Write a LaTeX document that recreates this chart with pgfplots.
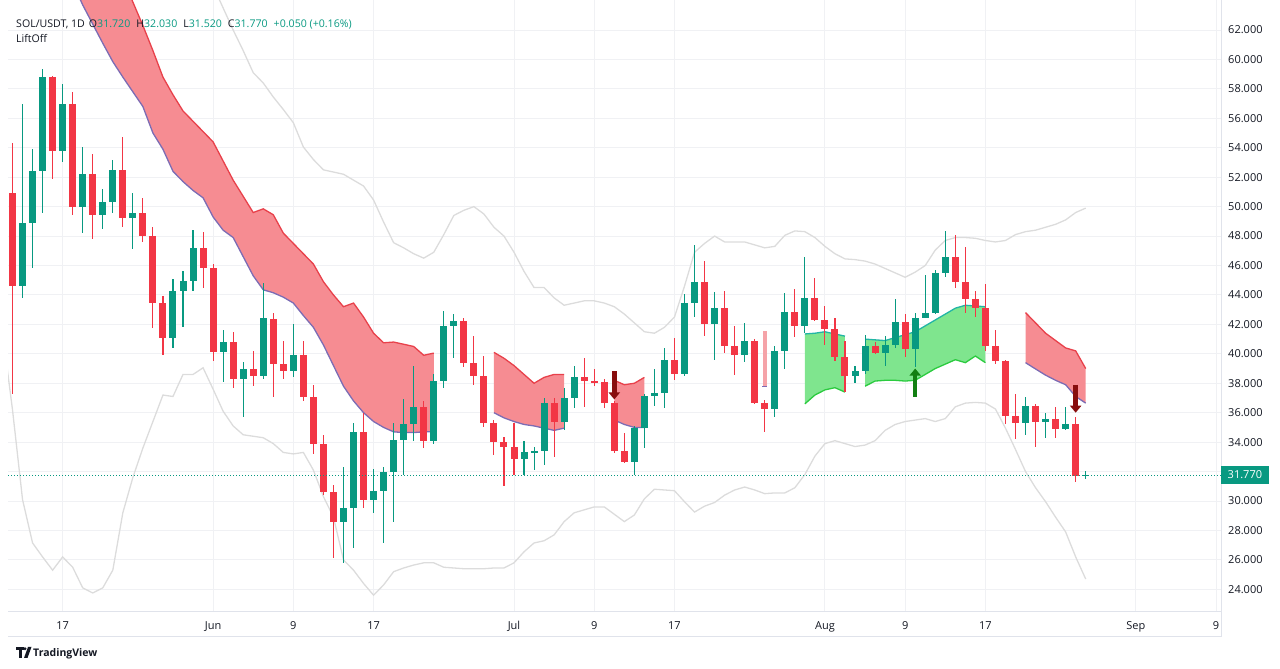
\documentclass[border=0pt]{standalone}
\usepackage{fontspec}
\setmainfont{Open Sans}
\usepackage{pgfplots}
\usepackage{pgfplotstable}
\pgfplotsset{compat=1.18}
\usepgfplotslibrary{fillbetween}
\usetikzlibrary{arrows.meta,calc}
\definecolor{tvgreen}{HTML}{089981}
\definecolor{tvred}{HTML}{F23645}
\definecolor{tvdark}{HTML}{131722}
\definecolor{bandred}{HTML}{F68C92}
\definecolor{bandredline}{HTML}{E8414B}
\definecolor{bandpurple}{HTML}{7C6CB4}
\definecolor{bandgreen}{HTML}{7FE58E}
\definecolor{bandteal}{HTML}{22B5A5}
\definecolor{bandlime}{HTML}{2BCB3F}
\definecolor{bbgrey}{HTML}{DCDCDC}
\definecolor{gridc}{HTML}{F0F1F4}
\definecolor{axisc}{HTML}{E0E3EB}
\definecolor{arrred}{HTML}{880E0E}
\definecolor{arrgreen}{HTML}{127F12}
\definecolor{pinkbar}{HTML}{F5A3A8}

\pgfplotstableread{
k O H L C u
0 50.93 54.3 37.3 44.6 0
1 44.6 57.0 43.8 48.9 1
2 48.9 53.9 45.8 52.4 1
3 52.4 59.35 49.6 58.8 1
4 58.8 58.9 51.9 53.8 0
5 53.8 58.3 53.0 57.0 1
6 57.0 57.8 49.4 50.0 0
7 50.0 54.05 48.2 52.2 1
8 52.2 53.6 47.8 49.4 0
9 49.4 51.2 48.5 50.3 1
10 50.3 53.2 49.6 52.5 1
11 52.5 54.7 48.6 49.2 0
12 49.2 50.9 47.1 49.6 1
13 49.6 50.6 47.6 48.0 0
14 48.0 48.6 41.75 43.45 0
15 43.45 43.9 39.9 41.1 0
16 41.1 45.1 40.4 44.3 1
17 44.3 45.6 41.8 44.95 1
18 44.95 48.4 44.3 47.2 1
19 47.2 48.3 44.5 45.8 0
20 45.8 46.1 39.5 40.1 0
21 40.1 41.6 38.1 40.8 1
22 40.8 41.5 37.7 38.3 0
23 38.3 39.45 35.7 39.0 1
24 39.0 40.2 37.8 38.5 0
25 38.5 44.8 38.3 42.4 1
26 42.4 42.8 37.1 39.3 0
27 39.3 40.9 38.3 38.8 0
28 38.8 42.0 38.4 39.9 1
29 39.9 40.9 36.8 37.1 0
30 37.1 37.9 33.2 33.9 0
31 33.9 34.5 30.4 30.6 0
32 30.6 31.1 26.1 28.6 0
33 28.6 32.3 25.8 29.5 1
34 29.5 35.3 26.8 34.7 1
35 34.7 36.0 29.5 30.1 0
36 30.1 32.2 29.2 30.7 1
37 30.7 32.3 27.15 32.0 1
38 32.0 35.3 28.6 34.15 1
39 34.15 36.9 31.8 35.2 1
40 35.2 39.2 34.1 36.4 1
41 36.4 36.8 33.6 34.1 0
42 34.1 38.6 33.9 38.15 1
43 38.15 42.9 37.7 41.9 1
44 41.9 42.7 39.7 42.2 1
45 42.2 42.4 39.1 39.4 0
46 39.4 41.2 37.9 38.5 0
47 38.5 39.85 35.0 35.3 0
48 35.3 35.5 33.1 34.0 0
49 34.0 34.35 31.0 33.7 0
50 33.7 35.3 31.8 32.85 0
51 32.85 34.1 31.8 33.3 1
52 33.3 33.7 32.1 33.38 1
53 33.38 37.0 32.45 36.65 1
54 36.65 37.0 33.0 35.4 0
55 35.4 37.7 34.8 37.0 1
56 37.0 39.2 36.35 38.4 1
57 38.4 39.7 36.4 38.15 0
58 38.15 38.95 37.8 38.08 0
59 38.08 38.3 36.3 36.65 0
60 36.65 36.8 33.25 33.4 0
61 33.4 34.6 32.6 32.65 0
62 32.65 35.1 31.8 34.95 1
63 34.95 37.3 33.6 37.15 1
64 37.15 39.0 36.45 37.35 1
65 37.35 40.4 36.3 39.6 1
66 39.6 41.1 38.2 38.6 0
67 38.6 44.05 38.5 43.45 1
68 43.45 47.4 42.5 44.9 1
69 44.9 46.3 41.2 42.0 0
70 42.0 44.2 39.6 43.1 1
71 43.1 44.3 40.05 40.5 0
72 40.5 41.9 38.55 39.9 0
73 39.9 42.1 39.45 40.9 1
74 40.9 41.0 36.6 36.65 0
75 36.65 36.85 34.7 36.25 0
76 36.25 40.5 35.7 40.2 1
77 40.2 44.1 39.0 42.85 1
78 42.85 44.4 41.15 41.9 0
79 41.9 46.6 41.4 43.8 1
80 43.8 45.15 42.2 42.3 0
81 42.3 43.25 40.6 41.7 0
82 41.7 42.45 39.5 39.8 0
83 39.8 40.9 37.4 38.5 0
84 38.5 39.2 38.0 38.85 1
85 38.85 41.3 38.6 40.5 1
86 40.5 40.8 40.0 40.05 0
87 40.05 41.2 39.2 40.6 1
88 40.6 43.7 40.4 42.15 1
89 42.15 42.7 39.8 40.3 0
90 40.3 42.8 39.1 42.4 1
91 42.4 45.35 42.4 42.8 1
92 42.8 45.7 42.7 45.5 1
93 45.5 48.35 45.2 46.6 1
94 46.6 48.1 44.5 44.9 0
95 44.9 47.25 42.8 43.7 0
96 43.7 44.3 42.5 43.1 0
97 43.1 44.75 40.2 40.5 0
98 40.5 41.6 39.3 39.5 0
99 39.5 39.6 35.2 35.8 0
100 35.8 37.3 34.2 35.3 0
101 35.3 37.05 34.5 36.45 1
102 36.45 36.6 33.7 35.4 0
103 35.4 36.0 34.3 35.6 1
104 35.6 36.4 34.3 34.9 0
105 34.9 36.4 34.85 35.2 1
106 35.2 35.7 31.3 31.72 0
107 31.72 32.03 31.52 31.77 1
}\candles

\pgfplotstableread{
k v
20 65.0
21 63.5
22 62.0
23 60.6
24 59.1
25 58.4
26 57.45
27 56.6
28 55.7
29 54.05
30 53.2
31 52.5
32 52.35
33 52.2
34 51.8
35 51.4
36 50.45
37 48.95
38 47.55
39 47.2
40 46.8
41 46.5
42 46.9
43 48.1
44 49.4
45 49.75
46 50.0
47 49.5
48 48.6
49 48.0
50 46.9
51 45.6
52 44.5
53 44.5
54 43.8
55 43.3
56 43.45
57 43.6
58 43.6
59 43.45
60 43.2
61 42.7
62 42.1
63 41.5
64 41.4
65 41.8
66 42.5
67 44.6
68 46.9
69 47.5
70 48.0
71 47.6
72 47.6
73 47.6
74 47.4
75 47.2
76 47.3
77 48.05
78 48.35
79 48.3
80 47.9
81 47.3
82 46.8
83 46.45
84 46.4
85 46.3
86 46.1
87 45.8
88 45.5
89 45.2
90 45.55
91 46.0
92 47.05
93 47.7
94 47.9
95 47.9
96 47.85
97 47.7
98 47.6
99 47.7
100 48.1
101 48.3
102 48.4
103 48.6
104 48.8
105 49.1
106 49.6
107 49.9
}\greyup

\pgfplotstableread{
k v
-1 41.5
0 36.2
1 30.1
2 27.15
3 26.2
4 25.3
5 26.2
6 25.5
7 24.1
8 23.75
9 24.1
10 25.3
11 29.2
12 31.6
13 33.6
14 35.4
15 37.2
16 37.1
17 38.6
18 38.6
19 39.05
20 37.6
21 36.1
22 35.1
23 34.5
24 34.4
25 34.3
26 33.9
27 33.3
28 33.2
29 33.3
30 32.1
31 30.3
32 28.9
33 26.0
34 25.3
35 24.4
36 23.6
37 24.3
38 25.2
39 25.45
40 25.65
41 25.8
42 25.8
43 25.5
44 25.45
45 25.4
46 25.4
47 25.4
48 25.45
49 25.45
50 25.8
51 26.55
52 27.15
53 27.3
54 27.7
55 28.6
56 29.2
57 29.4
58 29.6
59 29.6
60 29.1
61 28.6
62 29.05
63 30.15
64 30.8
65 30.75
66 30.7
67 29.95
68 29.25
69 29.65
70 29.9
71 30.4
72 30.75
73 30.95
74 30.75
75 30.5
76 30.55
77 30.55
78 30.9
79 31.8
80 33.05
81 33.9
82 34.1
83 33.9
84 33.7
85 33.8
86 34.1
87 34.8
88 35.2
89 35.4
90 35.5
91 35.6
92 35.4
93 35.6
94 36.4
95 36.65
96 36.7
97 36.65
98 36.25
99 34.95
100 33.5
101 32.0
102 30.9
103 29.95
104 28.9
105 27.9
106 26.2
107 24.7
}\greylo

\pgfplotstableread{
k t b
6 73.6 65.2
7 72.0 63.7
8 70.4 62.4
9 68.7 61.1
10 67.1 59.85
11 65.5 58.8
12 63.9 57.8
13 62.3 56.8
14 60.6 55.0
15 58.8 53.9
16 57.6 52.4
17 56.5 51.7
18 55.8 51.1
19 55.1 50.6
20 54.4 49.3
21 53.1 48.4
22 51.8 47.9
23 50.7 46.6
24 49.6 45.3
25 49.85 44.35
26 49.45 44.15
27 48.2 43.85
28 47.5 43.45
29 46.8 42.6
30 46.1 41.8
31 44.9 40.6
32 44.0 39.2
33 43.2 37.8
34 43.45 36.8
35 42.5 36.0
36 41.4 35.4
37 40.75 35.0
38 40.8 34.7
39 40.65 34.65
40 40.5 34.65
41 39.9 34.7
42 40.05 34.7
}\redA

\pgfplotstableread{
k t b
48 40.1 36.0
49 39.7 35.65
50 39.2 35.4
51 38.6 35.2
52 38.0 35.1
53 38.4 34.95
54 38.6 34.8
55 38.6 34.95
}\redB

\pgfplotstableread{
k t b
60 38.2 35.5
61 37.9 35.2
62 38.0 35.0
63 38.4 35.0
}\redC

\pgfplotstableread{
k t b
101 42.8 39.4
102 42.1 38.97
103 41.4 38.55
104 40.9 38.2
105 40.4 37.9
106 40.2 37.1
107 39.0 36.65
}\redD

\pgfplotstableread{
k t b
79 41.35 36.6
80 41.4 37.2
81 41.5 37.55
82 41.35 37.7
83 41.2 37.4
}\grA

\pgfplotstableread{
k t b
85 41.0 37.8
86 40.95 38.15
87 40.9 38.2
88 41.1 38.2
89 41.3 38.15
90 41.5 38.2
91 41.9 38.6
92 42.3 39.0
93 42.7 39.3
94 43.1 39.6
95 43.3 39.4
96 43.25 39.85
97 43.2 39.4
}\grB

\begin{document}
\begin{tikzpicture}[x=1bp,y=1bp]
\begin{axis}[
  scale only axis, width=1213bp, height=612bp,
  xmin=-0.449, xmax=120.49, ymin=22.46, ymax=64.04,
  axis x line*=bottom, axis y line*=right,
  axis line style={draw=axisc, line width=1bp, -},
  xtick={5,20,28,36,50,58,66,81,89,97,112,120},
  xticklabels={17,Jun,9,17,Jul,9,17,Aug,9,17,Sep,9},
  ytick={24,26,...,62},
  yticklabels={24.000,26.000,28.000,30.000,{},34.000,36.000,38.000,40.000,42.000,44.000,46.000,48.000,50.000,52.000,54.000,56.000,58.000,60.000,62.000},
  major tick length=0pt,
  grid=major, major grid style={draw=gridc, line width=1bp},
  tick label style={font=\fontsize{11bp}{13bp}\selectfont, text=tvdark},
  xticklabel style={anchor=north, inner sep=0pt, yshift=-9bp},
  yticklabel style={anchor=west, inner sep=0pt, xshift=7bp},
]
% grey envelope
\addplot [bbgrey, line width=1.3bp, forget plot] table [x=k, y=v] {\greyup};
\addplot [bbgrey, line width=1.3bp, forget plot] table [x=k, y=v] {\greylo};

% red bands
\addplot [name path=rat, bandredline, line width=1.3bp, forget plot] table [x=k, y=t] {\redA};
\addplot [name path=rab, bandpurple, line width=1.3bp, forget plot] table [x=k, y=b] {\redA};
\addplot [fill=bandred, draw=none, forget plot] fill between [of=rat and rab];
\addplot [name path=rbt, bandredline, line width=1.3bp, forget plot] table [x=k, y=t] {\redB};
\addplot [name path=rbb, bandpurple, line width=1.3bp, forget plot] table [x=k, y=b] {\redB};
\addplot [fill=bandred, draw=none, forget plot] fill between [of=rbt and rbb];
\addplot [name path=rct, bandredline, line width=1.3bp, forget plot] table [x=k, y=t] {\redC};
\addplot [name path=rcb, bandpurple, line width=1.3bp, forget plot] table [x=k, y=b] {\redC};
\addplot [fill=bandred, draw=none, forget plot] fill between [of=rct and rcb];
\addplot [name path=rdt, bandredline, line width=1.3bp, forget plot] table [x=k, y=t] {\redD};
\addplot [name path=rdb, bandpurple, line width=1.3bp, forget plot] table [x=k, y=b] {\redD};
\addplot [fill=bandred, draw=none, forget plot] fill between [of=rdt and rdb];
% green bands
\addplot [name path=gat, bandteal, line width=1.3bp, forget plot] table [x=k, y=t] {\grA};
\addplot [name path=gab, bandlime, line width=1.3bp, forget plot] table [x=k, y=b] {\grA};
\addplot [fill=bandgreen, draw=none, forget plot] fill between [of=gat and gab];
\addplot [name path=gbt, bandteal, line width=1.3bp, forget plot] table [x=k, y=t] {\grB};
\addplot [name path=gbb, bandlime, line width=1.3bp, forget plot] table [x=k, y=b] {\grB};
\addplot [fill=bandgreen, draw=none, forget plot] fill between [of=gbt and gbb];
% one-bar band
\addplot [pinkbar, line width=4bp, forget plot] coordinates {(75,41.55) (75,37.8)};
\addplot [bandpurple, line width=1.2bp, forget plot] coordinates {(74.75,37.8) (75.25,37.8)};

% candles: wicks
\addplot [draw=none, forget plot, restrict expr to domain={\thisrow{u}}{0.5:1.5},
  error bars/.cd, y dir=both, y explicit, error mark=none,
  error bar style={draw=tvgreen, line width=1.1bp}]
  table [x=k, y expr={(\thisrow{H}+\thisrow{L})/2}, y error expr={(\thisrow{H}-\thisrow{L})/2}] {\candles};
\addplot [draw=none, forget plot, restrict expr to domain={\thisrow{u}}{-0.5:0.5},
  error bars/.cd, y dir=both, y explicit, error mark=none,
  error bar style={draw=tvred, line width=1.1bp}]
  table [x=k, y expr={(\thisrow{H}+\thisrow{L})/2}, y error expr={(\thisrow{H}-\thisrow{L})/2}] {\candles};
% candles: bodies
\addplot [draw=none, forget plot, restrict expr to domain={\thisrow{u}}{0.5:1.5},
  error bars/.cd, y dir=both, y explicit, error mark=none,
  error bar style={draw=tvgreen, line width=7bp}]
  table [x=k, y expr={(\thisrow{O}+\thisrow{C})/2}, y error expr={max(abs(\thisrow{C}-\thisrow{O})/2,0.035)}] {\candles};
\addplot [draw=none, forget plot, restrict expr to domain={\thisrow{u}}{-0.5:0.5},
  error bars/.cd, y dir=both, y explicit, error mark=none,
  error bar style={draw=tvred, line width=7bp}]
  table [x=k, y expr={(\thisrow{O}+\thisrow{C})/2}, y error expr={max(abs(\thisrow{C}-\thisrow{O})/2,0.035)}] {\candles};

% signal arrows
\addplot [arrred, line width=4.5bp, -{Triangle[width=11bp,length=7bp]}, forget plot] coordinates {(60,38.8) (60,36.9)};
\addplot [arrred, line width=4.5bp, -{Triangle[width=11bp,length=7bp]}, forget plot] coordinates {(106,37.9) (106,36.0)};
\addplot [arrgreen, line width=4.5bp, -{Triangle[width=11bp,length=7bp]}, forget plot] coordinates {(90,37.1) (90,39.0)};

% last price line
\addplot [tvgreen, line width=0.9bp, dash pattern=on 1bp off 2bp, forget plot] coordinates {(-0.449,31.77) (120.49,31.77)};
\coordinate (pl) at (axis cs:120.49,31.77);
\coordinate (bl) at (axis cs:-0.449,22.46);
\coordinate (br) at (axis cs:120.49,22.46);
\end{axis}

\node[fill=tvgreen, text=white, anchor=west, inner xsep=6.5bp, inner ysep=0pt, minimum height=18bp,
  font=\fontsize{11bp}{13bp}\selectfont] at (pl) {31.770};

\draw[axisc, line width=1bp] ([yshift=-25bp]bl) -- ([yshift=-25bp]br) -- (br);

\coordinate (O) at ($(bl)+(-8,-57)$);
\begin{scope}[shift={(O)}]
\node[anchor=base west, inner sep=0pt, font=\fontsize{10.6bp}{13bp}\selectfont] at (16,641)
  {\textcolor{tvdark}{SOL/USDT, 1D}\hspace{4bp}\textcolor{tvdark}{O}\textcolor{tvgreen}{31.720}\hspace{6bp}\textcolor{tvdark}{H}\textcolor{tvgreen}{32.030}\hspace{6bp}\textcolor{tvdark}{L}\textcolor{tvgreen}{31.520}\hspace{6bp}\textcolor{tvdark}{C}\textcolor{tvgreen}{31.770}\hspace{6bp}\textcolor{tvgreen}{+0.050 (+0.16\%)}};
\node[anchor=base west, inner sep=0pt, font=\fontsize{10.6bp}{13bp}\selectfont, text=tvdark] at (16,626) {LiftOff};
% TradingView logo
\fill[tvdark] (16,19) rectangle (23.5,22);
\fill[tvdark] (18.5,11) rectangle (21.5,19);
\fill[tvdark] (25,20.3) circle (1.6);
\fill[tvdark] (28,22) -- (31.5,22) -- (27.5,11) -- (24,11) -- cycle;
\node[anchor=base west, inner sep=0pt, font=\fontsize{10.5bp}{13bp}\selectfont\bfseries, text=tvdark] at (33,12) {TradingView};
\end{scope}

\pgfresetboundingbox
\path[use as bounding box] (O) rectangle ($(O)+(1280,669)$);
\end{tikzpicture}
\end{document}
